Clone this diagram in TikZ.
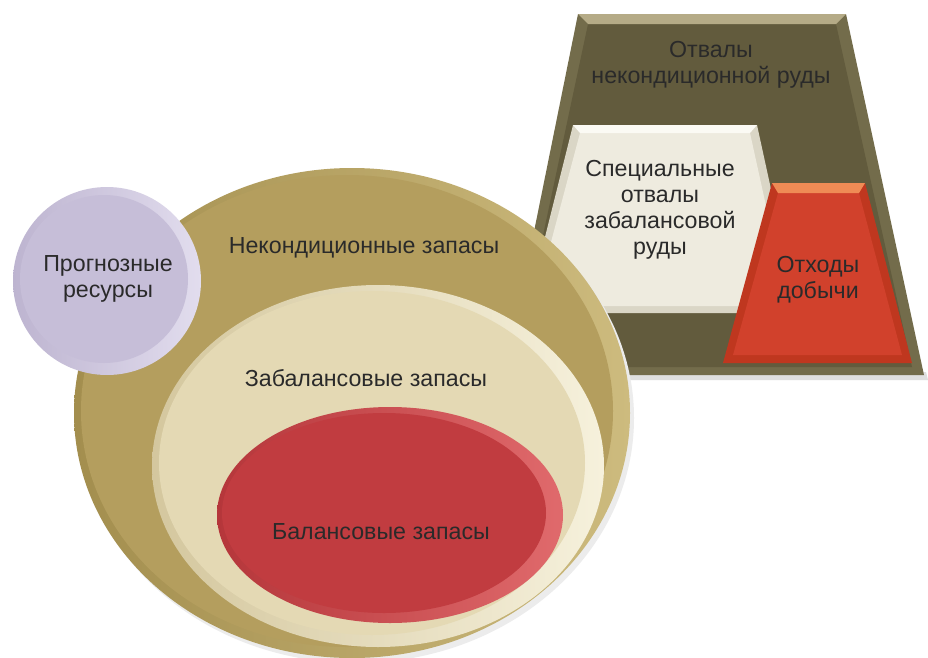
\documentclass[tikz,border=0pt]{standalone}
\usepackage{fontspec}
\setmainfont{Liberation Sans}
\usetikzlibrary{calc}

\definecolor{goldfill}{HTML}{B49E5E}
\definecolor{goldleft}{HTML}{A38E4E}
\definecolor{goldright}{HTML}{CDBB7E}
\definecolor{creamfill}{HTML}{E4D9B4}
\definecolor{creamleft}{HTML}{D4C79E}
\definecolor{creamright}{HTML}{F6F1DC}
\definecolor{redfill}{HTML}{C13C40}
\definecolor{redleft}{HTML}{B5363A}
\definecolor{redright}{HTML}{E06A6C}
\definecolor{lilacfill}{HTML}{C6BED8}
\definecolor{lilacleft}{HTML}{BDB4D0}
\definecolor{lilacright}{HTML}{E2DDEE}
\definecolor{dumpfill}{HTML}{625B3D}
\definecolor{dumpside}{HTML}{736C4B}
\definecolor{dumptop}{HTML}{B5AB87}
\definecolor{specfill}{HTML}{EEEBDF}
\definecolor{specside}{HTML}{DAD6C6}
\definecolor{spectop}{HTML}{FBFAF4}
\definecolor{wastefill}{HTML}{D1412C}
\definecolor{wasteside}{HTML}{BF371F}
\definecolor{wastetop}{HTML}{EF8B55}
\definecolor{labeltext}{HTML}{2A2A2A}

\tikzset{
  lbl/.style={text=labeltext, align=center, inner sep=0pt,
    font=\fontsize{16.5}{18.5}\selectfont},
}

\begin{document}
\begin{tikzpicture}[x=0.025cm, y=0.025cm]

    \useasboundingbox (0,0) rectangle (928,-658);
    \fill[white] (0,0) rectangle (928,-658);

    % dumps on the right
    \fill[gray!25] (507,-372) -- (926,-372) -- (928,-380) -- (509,-380) -- cycle;
    \fill[dumpside] (578,-14) -- (846,-14) -- (924,-375) -- (505,-375) -- cycle;
    \fill[dumpfill] (588,-24) -- (836,-24) -- (912,-367) -- (515,-367) -- cycle;
    \fill[dumptop] (578,-14) -- (846,-14) -- (836,-24) -- (588,-24) -- cycle;

    \fill[specside] (573,-125) -- (757,-125) -- (798,-313) -- (526,-313) -- cycle;
    \fill[specfill] (580,-133) -- (750,-133) -- (788,-306) -- (534,-306) -- cycle;
    \fill[spectop] (573,-125) -- (757,-125) -- (750,-133) -- (580,-133) -- cycle;

    \fill[wasteside] (772,-183) -- (865,-183) -- (912,-363) -- (723,-363) -- cycle;
    \fill[wastefill] (778,-193) -- (859,-193) -- (902,-355) -- (733,-355) -- cycle;
    \fill[wastetop] (772,-183) -- (865,-183) -- (859,-193) -- (778,-193) -- cycle;

    % nested reserves
    \fill[gray!15] (356,-418) ellipse [x radius=278, y radius=245];
    \shade[left color=goldleft, right color=goldright] (352,-413) ellipse [x radius=278, y radius=245];
    \fill[goldfill] (347,-411) ellipse [x radius=266, y radius=236];

    \shade[left color=creamleft, right color=creamright] (378,-466) ellipse [x radius=226, y radius=181];
    \fill[creamfill] (372,-463) ellipse [x radius=213, y radius=172];

    \shade[left color=redleft, right color=redright] (390,-515) ellipse [x radius=173, y radius=108];
    \fill[redfill] (384,-513) ellipse [x radius=162, y radius=100];

    \shade[left color=lilacleft, right color=lilacright] (107,-281) circle [radius=94];
    \fill[lilacfill] (104,-279) circle [radius=84];

    % labels
    \node[lbl] (forecast) at (108,-279) {Прогнозные\\ресурсы};
    \node[lbl] (offgrade) at (364,-248) {Некондиционные запасы};
    \node[lbl] (offbal) at (366,-378) {Забалансовые запасы};
    \node[lbl] (balance) at (381,-532) {Балансовые запасы};
    \node[lbl] (dumps) at (711,-65) {Отвалы\\некондиционной руды};
    \node[lbl] (special) at (660,-210) {Специальные\\отвалы\\забалансовой\\руды};
    \node[lbl] (waste) at (818,-280) {Отходы\\добычи};

\end{tikzpicture}
\end{document}
